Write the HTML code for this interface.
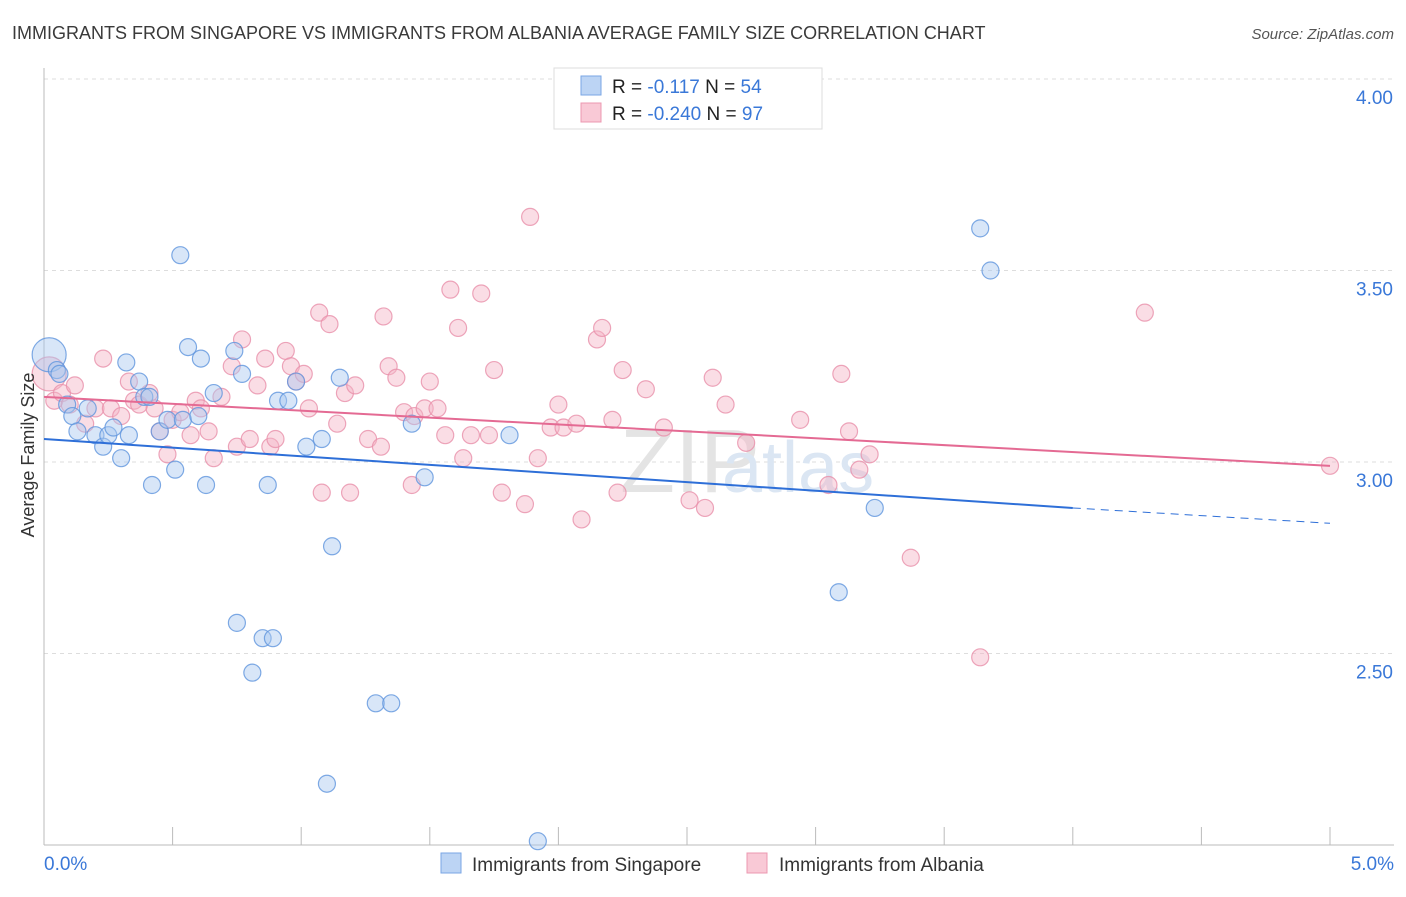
<!DOCTYPE html>
<html><head><meta charset="utf-8"><style>
body{margin:0;background:#fff;font-family:"Liberation Sans",sans-serif}
svg text{font-family:"Liberation Sans",sans-serif}
</style></head><body>
<svg width="1406" height="892" viewBox="0 0 1406 892">
<text x="12" y="39" font-size="18" fill="#3a3a3a">IMMIGRANTS FROM SINGAPORE VS IMMIGRANTS FROM ALBANIA AVERAGE FAMILY SIZE CORRELATION CHART</text>
<text x="1394" y="39" font-size="15" fill="#555" text-anchor="end" font-style="italic">Source: ZipAtlas.com</text>
<g id="grid"></g>
<g id="axes"></g>
<text x="620" y="492" font-size="90" fill="#e4e4e4" font-family="Liberation Serif">ZIP</text>
<text x="722" y="492" font-size="72" fill="#dbe6f3">atlas</text>
<g id="pts"></g>
<g id="lines"></g>
<text transform="translate(34,455) rotate(-90)" font-size="18" fill="#333" text-anchor="middle">Average Family Size</text>
<g>
<rect x="554" y="68" width="268" height="61" fill="#fff" stroke="#ddd"/>
<rect x="581" y="76" width="20" height="19" fill="#bcd4f4" stroke="#7aa6e4"/>
<rect x="581" y="103" width="20" height="19" fill="#f9c9d6" stroke="#ec98b0"/>
<text x="612" y="93" font-size="19" fill="#222">R =  <tspan fill="#3a78d8">-0.117</tspan>   N = <tspan fill="#3a78d8">54</tspan></text>
<text x="612" y="120" font-size="19" fill="#222">R = <tspan fill="#3a78d8">-0.240</tspan>   N = <tspan fill="#3a78d8">97</tspan></text>
</g>
<g>
<rect x="441" y="853" width="20" height="20" fill="#bcd4f4" stroke="#7aa6e4"/>
<text x="472" y="871" font-size="19" fill="#333">Immigrants from Singapore</text>
<rect x="747" y="853" width="20" height="20" fill="#f9c9d6" stroke="#ec98b0"/>
<text x="779" y="871" font-size="19" fill="#333">Immigrants from Albania</text>
</g>
</svg>
<script>
const yTicks=[4.0,3.5,3.0,2.5];
const yTickLabels=["4.00","3.50","3.00","2.50"];
const xTickLabels=["0.0%","5.0%"];
const blueX=[0.02,0.05,0.09,0.11,0.13,0.17,0.20,0.23,0.25,0.27,0.30,0.32,0.33,0.37,0.39,0.41,0.42,0.45,0.48,0.51,0.53,0.54,0.56,0.60,0.61,0.63,0.66,0.74,0.75,0.77,0.85,0.87,0.89,0.81,0.91,0.95,0.98,1.02,1.08,1.12,1.10,1.15,1.29,1.35,1.43,1.48,1.81,1.92,3.09,3.23,3.64,3.68,0.06];
const blueY=[3.28,3.24,3.15,3.12,3.08,3.14,3.07,3.04,3.07,3.09,3.01,3.26,3.07,3.21,3.17,3.17,2.94,3.08,3.11,2.98,3.54,3.11,3.30,3.12,3.27,2.94,3.18,3.29,2.58,3.23,2.54,2.94,2.54,2.45,3.16,3.16,3.21,3.04,3.06,2.78,2.16,3.22,2.37,2.37,3.10,2.96,3.07,2.01,2.66,2.88,3.61,3.50,3.23];
const pinkX=[0.02,0.04,0.07,0.10,0.12,0.16,0.20,0.23,0.26,0.30,0.33,0.35,0.37,0.41,0.43,0.45,0.48,0.50,0.53,0.57,0.59,0.61,0.64,0.66,0.69,0.73,0.75,0.77,0.80,0.83,0.86,0.88,0.90,0.94,0.96,0.98,1.01,1.03,1.07,1.08,1.11,1.14,1.17,1.19,1.21,1.26,1.31,1.32,1.34,1.37,1.40,1.43,1.44,1.48,1.50,1.53,1.56,1.58,1.61,1.63,1.66,1.70,1.73,1.75,1.78,1.87,1.89,1.92,1.97,2.00,2.02,2.07,2.09,2.15,2.17,2.21,2.23,2.25,2.34,2.41,2.51,2.57,2.60,2.65,2.73,2.94,3.05,3.10,3.13,3.17,3.21,3.37,3.64,4.28,5.00];
const pinkY=[3.23,3.16,3.18,3.15,3.20,3.10,3.14,3.27,3.14,3.12,3.21,3.16,3.15,3.18,3.14,3.08,3.02,3.11,3.13,3.07,3.16,3.14,3.08,3.01,3.17,3.25,3.04,3.32,3.06,3.20,3.27,3.04,3.06,3.29,3.25,3.21,3.23,3.14,3.39,2.92,3.36,3.10,3.18,2.92,3.20,3.06,3.04,3.38,3.25,3.22,3.13,2.94,3.12,3.14,3.21,3.14,3.07,3.45,3.35,3.01,3.07,3.44,3.07,3.24,2.92,2.89,3.64,3.01,3.09,3.15,3.09,3.10,2.85,3.32,3.35,3.11,2.92,3.24,3.19,3.09,2.90,2.88,3.22,3.15,3.05,3.11,2.94,3.23,3.08,2.98,3.02,2.75,2.49,3.39,2.99];
const blueTrend=[3.06,2.88,2.84];
const blueTrendX=[0,4.0,5.0];
const pinkTrend=[3.17,2.99];
const pinkTrendX=[0,5.0];
const NS="http://www.w3.org/2000/svg";
const sx=v=>44+v/5*1286, sy=v=>79+(4-v)*383;
function mk(t,a,p){const e=document.createElementNS(NS,t);for(const k in a)e.setAttribute(k,a[k]);p.appendChild(e);return e;}
const grid=document.getElementById('grid'),axes=document.getElementById('axes'),pts=document.getElementById('pts'),lines=document.getElementById('lines');
yTicks.forEach((v,i)=>{
 const l=mk('line',{x1:44,x2:1394,y1:sy(v),y2:sy(v),stroke:'#ddd','stroke-dasharray':'4,4'},grid);
 
 
 const t=mk('text',{x:1393,y:sy(v)+25,'font-size':19,fill:'#3a78d8','text-anchor':'end'},axes);
 t.textContent=yTickLabels[i];
 
 
});
const ax=mk('line',{x1:44,x2:44,y1:68,y2:845,stroke:'#bbb'},axes);


const bx=mk('line',{x1:44,x2:1394,y1:845,y2:845,stroke:'#bbb'},axes);


for(let i=0;i<=10;i++){
 const tk=mk('line',{x1:sx(i*0.5),x2:sx(i*0.5),y1:827,y2:845,stroke:'#bbb'},axes);
 
 
}
[[0,'start',44],[1,'end',1394]].forEach(([i,a,x])=>{
 const t=mk('text',{x:x,y:870,'font-size':19,fill:'#3a78d8','text-anchor':a},axes);
 t.textContent=xTickLabels[i];
 
 
});
function draw(X,Y,fill,stroke,name){
 X.forEach((x,i)=>{
  const c=mk('circle',{cx:sx(x),cy:sy(Y[i]),r:(i===0?17:8.5),fill:fill,'fill-opacity':0.45,stroke:stroke,'stroke-opacity':0.8,'stroke-width':1.2},pts);
  
  
 });
}
draw(pinkX,pinkY,'#f5b4c6','#e890aa','albania-point');
draw(blueX,blueY,'#a9c7ef','#5f95dd','singapore-point');
const bl=mk('line',{x1:sx(blueTrendX[0]),y1:sy(blueTrend[0]),x2:sx(blueTrendX[1]),y2:sy(blueTrend[1]),stroke:'#2e6fd8','stroke-width':2},lines);


const bd=mk('line',{x1:sx(blueTrendX[1]),y1:sy(blueTrend[1]),x2:sx(blueTrendX[2]),y2:sy(blueTrend[2]),stroke:'#2e6fd8','stroke-width':1,'stroke-dasharray':'8,6'},lines);


const pl=mk('line',{x1:sx(pinkTrendX[0]),y1:sy(pinkTrend[0]),x2:sx(pinkTrendX[1]),y2:sy(pinkTrend[1]),stroke:'#e46a93','stroke-width':2},lines);


</script>
</body></html>
